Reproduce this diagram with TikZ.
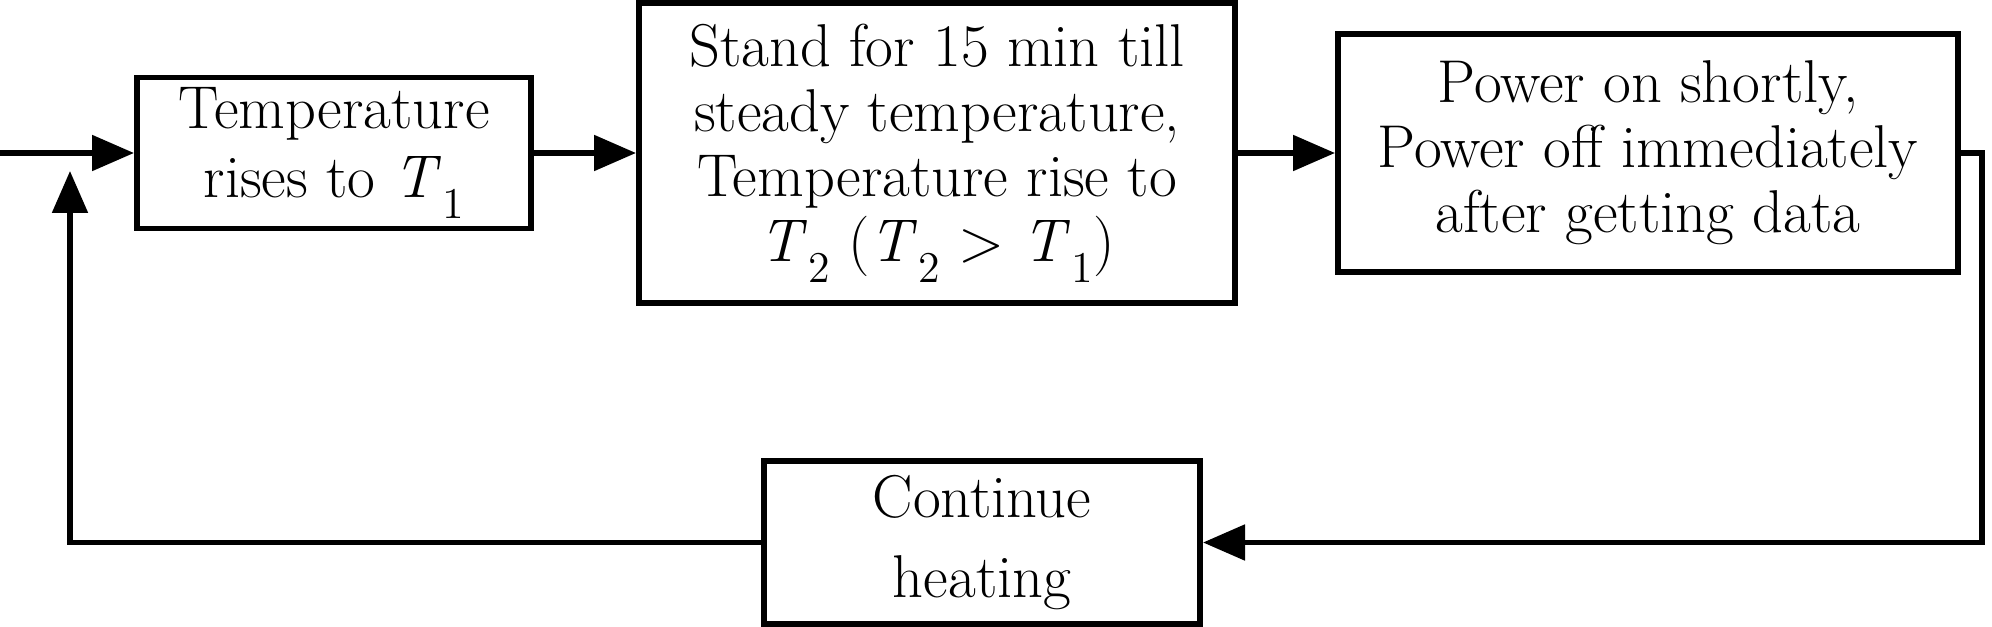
\documentclass[tikz,border=0pt]{standalone}
\usepackage{fontspec}
\usetikzlibrary{arrows.meta}
\newcommand\Tsb[1]{\textit{T}\kern0.02em\raisebox{-6pt}{\fontsize{12.5}{12.5}\selectfont #1}}
\begin{document}
\begin{tikzpicture}[x=1cm,y=1cm,
  box/.style={draw, line width=1.7pt, inner sep=0pt, align=center, font=\fontsize{17.2}{18.5}\selectfont},
  conn/.style={line width=1.5pt, -{Triangle[length=0.42cm,width=0.35cm]}}]
\useasboundingbox (0,0) rectangle (19.92,6.26);
\node[box, minimum width=3.94cm, minimum height=1.51cm, font=\fontsize{17.2}{19.5}\selectfont] (b1) at (3.34,4.73) {Temperature\\rises to \Tsb{1}};
\node[box, minimum width=5.96cm, minimum height=3.0cm] (b2) at (9.37,4.73) {Stand for 15 min till\\steady temperature,\\Temperature rise to\\\Tsb{2} (\Tsb{2} > \Tsb{1})};
\node[box, minimum width=6.2cm, minimum height=2.38cm] (b3) at (16.48,4.73) {Power on shortly,\\Power off immediately\\after getting data};
\node[box, minimum width=4.36cm, minimum height=1.63cm, font=\fontsize{17.2}{22.7}\selectfont] (b4) at (9.82,0.835) {Continue\\heating};
\coordinate (in) at (0,4.73);
\coordinate (r1) at (19.82,4.73);
\coordinate (fbtip) at (0.70,4.55);
\draw[conn] (in) -- (b1);
\draw[conn] (b1) -- (b2);
\draw[conn] (b2) -- (b3);
\draw[conn] (b3.east) -- (r1) |- (b4.east);
\draw[conn] (b4.west) -| (fbtip);
\end{tikzpicture}
\end{document}
